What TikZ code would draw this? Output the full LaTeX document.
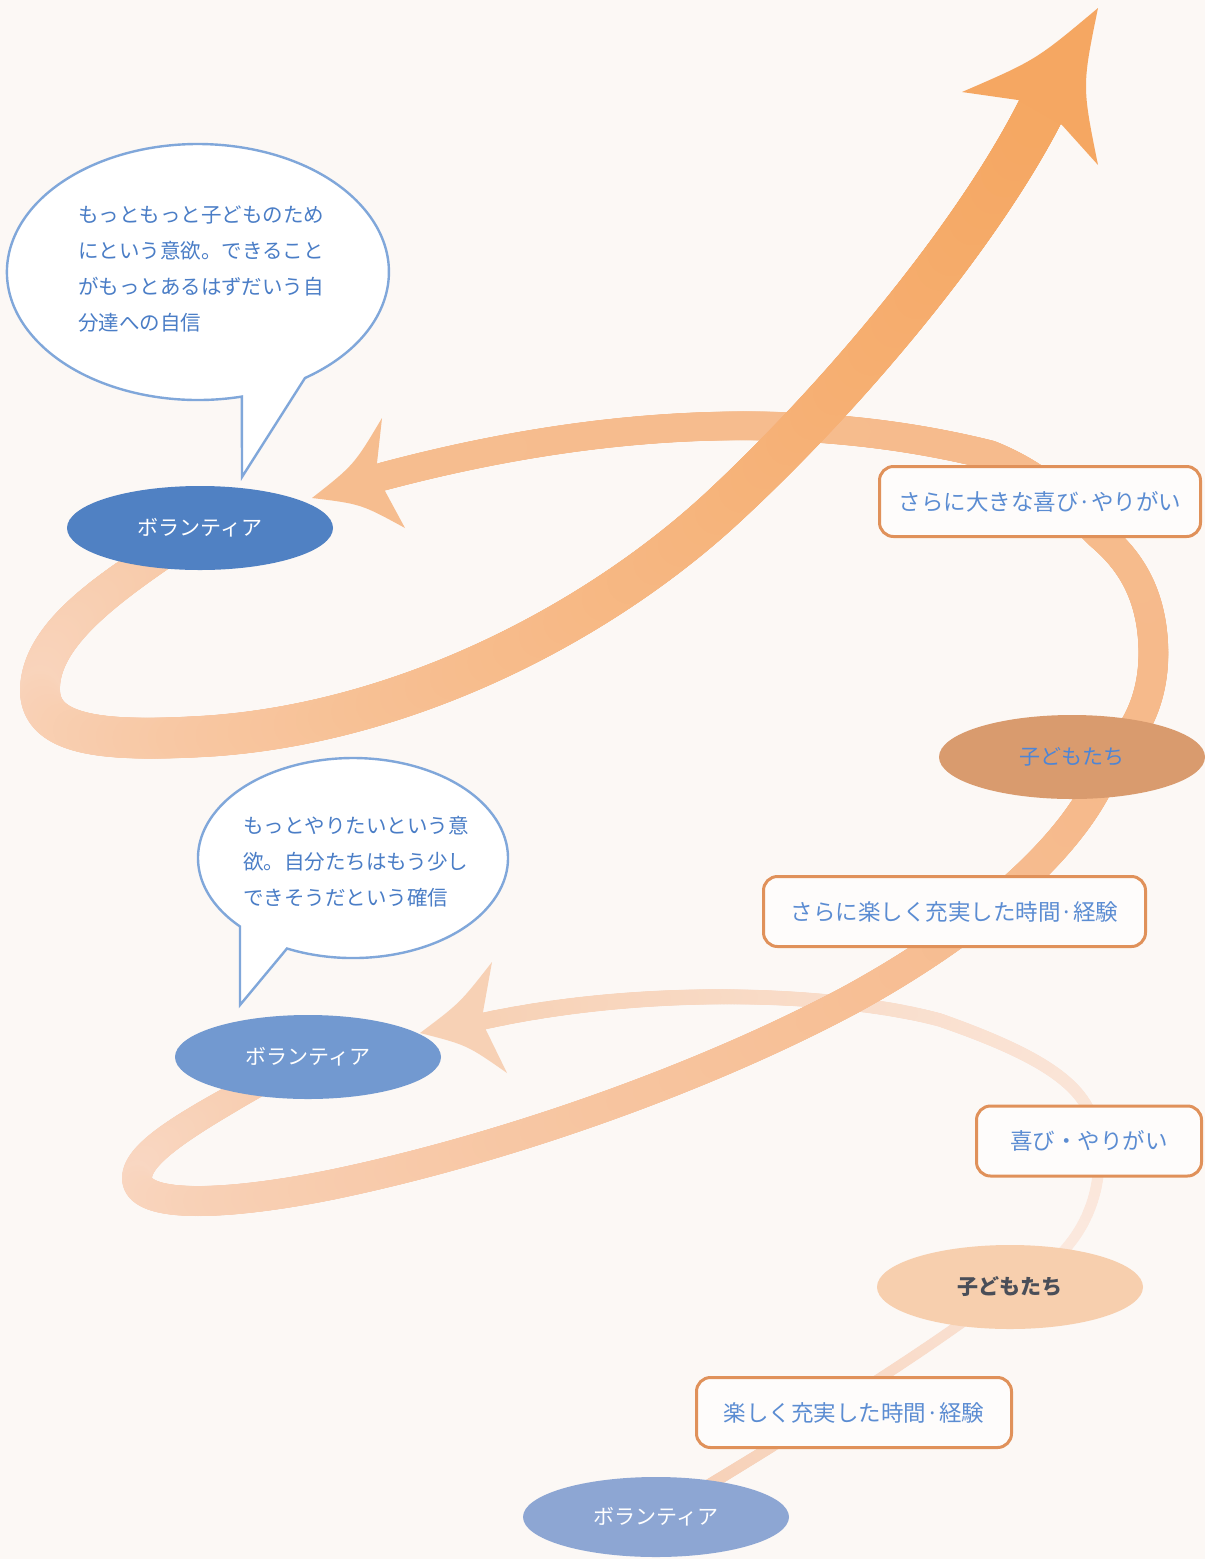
\documentclass[tikz,border=0pt]{standalone}
\usepackage{fontspec}
\newfontfamily\jp{Noto Sans CJK JP}
\usetikzlibrary{shapes.geometric,decorations.markings}
\pgfdeclarelayer{back}
\pgfdeclarelayer{band}
\pgfsetlayers{back,band,main}

\definecolor{bgc}{HTML}{FCF8F5}
\definecolor{v1c}{HTML}{5081C3}
\definecolor{v2c}{HTML}{7299D0}
\definecolor{v3c}{HTML}{8DA6D3}
\definecolor{k2c}{HTML}{D99B6E}
\definecolor{k3c}{HTML}{F7CFAE}
\definecolor{k2t}{HTML}{4D85D6}
\definecolor{k3t}{HTML}{4A4E58}
\definecolor{boxo}{HTML}{E0915A}
\definecolor{boxf}{HTML}{FEFCFB}
\definecolor{boxt}{HTML}{5B8CD2}
\definecolor{bubo}{HTML}{80A7DA}
\definecolor{bubt}{HTML}{4A7DC6}
% band colours
\definecolor{s1a}{HTML}{F6CEB3}
\definecolor{s1b}{HTML}{FAE2D4}
\definecolor{s2a}{HTML}{FBE9DF}
\definecolor{s2b}{HTML}{F7D1B5}
\definecolor{s3a}{HTML}{F7C9A8}
\definecolor{s3b}{HTML}{F9D7C2}
\definecolor{s3c}{HTML}{F6B98A}
\definecolor{s4a}{HTML}{F6BA8B}
\definecolor{s4b}{HTML}{F6BD8F}
\definecolor{s5a}{HTML}{F7C7A3}
\definecolor{s5b}{HTML}{F9D4BC}
\definecolor{s5c}{HTML}{F5A762}

% gradient band: #1 start width, #2 end width, #3 start colour, #4 end colour, #5 colour exponent, #6 path
\newcommand\gband[6]{%
  \path[decorate, decoration={markings, mark=between positions 0 and 1 step 1.4pt with {%
      \pgfmathsetmacro\gbfr{\pgfkeysvalueof{/pgf/decoration/mark info/distance from start}/\pgfdecoratedpathlength}%
      \pgfmathsetmacro\gbw{(#1+(#2-#1)*\gbfr)/2}%
      \pgfmathtruncatemacro\gbpc{100*(max(\gbfr,0.0001))^(#5)}%
      \fill[#4!\gbpc!#3] (0,0) circle[radius=\gbw pt];%
  }}] #6;%
}

\tikzset{
  vol/.style={ellipse, minimum width=266pt, minimum height=84pt, inner sep=0pt,
    text=white, font=\jp\fontsize{21}{25}\selectfont},
  kid/.style={ellipse, minimum width=266pt, minimum height=84pt, inner sep=0pt,
    font=\jp\fontsize{21}{25}\selectfont},
  gbox/.style={draw=boxo, line width=3pt, rounded corners=14pt, fill=boxf,
    text=boxt, font=\jp\fontsize{22.5}{26}\selectfont, minimum height=70pt, inner sep=0pt},
  bubble/.style={draw=bubo, line width=2.4pt, fill=white},
  btext/.style={text=bubt, align=left, inner sep=0pt, font=\jp\fontsize{20.5}{36}\selectfont},
}

\begin{document}
\begin{tikzpicture}[x=1pt,y=-1pt]
\useasboundingbox (0,0) rectangle (1205,1559);
\begin{pgfonlayer}{back}
\fill[bgc] (0,0) rectangle (1205,1559);
\end{pgfonlayer}

% ---- ellipses ----
\node[vol, fill=v1c] (v1) at (200,528) {ボランティア};
\node[vol, fill=v2c] (v2) at (308,1057) {ボランティア};
\node[vol, fill=v3c, minimum height=80pt] (v3) at (656,1517) {ボランティア};
\node[kid, fill=k2c, text=k2t] (k2) at (1072,757) {子どもたち};
\node[kid, fill=k3c, text=k3t, font=\jp\bfseries\fontsize{21}{25}\selectfont] (k3) at (1010,1287) {子どもたち};

% ---- boxes ----
\node[gbox, minimum width=321pt] (bbig) at (1040,501.5) {さらに大きな喜び·やりがい};
\node[gbox, minimum width=382pt] (bsara) at (954.5,911.5) {さらに楽しく充実した時間·経験};
\node[gbox, minimum width=225pt] (byoro) at (1089,1141) {喜び・やりがい};
\node[gbox, minimum width=315pt] (btano) at (854,1412.5) {楽しく充実した時間·経験};

% ---- speech bubbles ----
\draw[bubble] (305,378) arc[start angle=55.9, end angle=-283.3, x radius=191, y radius=128] -- (242,477) -- cycle;
\node[btext, anchor=north west] (q1) at (78,206) {もっともっと子どものため\\にという意欲。できること\\がもっとあるはずだいう自\\分達への自信};
\draw[bubble] (287,948.5) arc[start angle=115.2, end angle=-223.2, x radius=155, y radius=100] -- (240,1005) -- cycle;
\node[btext, anchor=north west] (q2) at (243,816) {もっとやりたいという意\\欲。自分たちはもう少し\\できそうだという確信};

% ---- bands ----
\coordinate (h1) at (484,1021);
\coordinate (L2) at (137,1178);
\coordinate (h2) at (381,477);
\coordinate (L3) at (40,690);
\coordinate (h3) at (1040,112);
\begin{pgfonlayer}{band}
% bottom: volunteers -> children
\gband{12}{10}{s1a}{s1b}{1}{(v3.center) .. controls (800,1430) and (930,1350) .. (k3.center)}
% children -> volunteers (loop 1)
\gband{10}{17}{s2a}{s2b}{1.3}{(k3.center) .. controls (1080,1260) and (1110,1190) .. (1095,1130)
   .. controls (1088,1085) and (1040,1055) .. (940,1020)
   .. controls (840,993) and (650,985) .. (h1)}
\fill[s2b] (420,1033) .. controls (460,1003) .. (492,962) -- (483,1012) -- (486,1030)
   -- (507,1073) .. controls (467,1045) .. (420,1033) -- cycle;
% volunteers -> children (loop 2)
\gband{24}{30}{s3a}{s3b}{1}{(v2.center) .. controls (200,1115) and (137,1150) .. (L2)}
\gband{30}{30}{s3b}{s3c}{0.6}{(L2) .. controls (137,1210) and (230,1205) .. (330,1185)
   .. controls (500,1150) and (700,1080) .. (850,1000)
   .. controls (960,940) and (1080,850) .. ([xshift=38pt]k2.center)}
% children -> volunteers (loop 2 return)
\gband{30}{28}{s4a}{s4b}{1}{([xshift=38pt]k2.center) .. controls (1145,725) and (1158,680) .. (1152,630)
   .. controls (1147,590) and (1130,560) .. (1100,535)
   .. controls (1070,505) and (1040,475) .. (990,455)
   .. controls (850,420) and (650,405) .. (h2)}
\fill[s4b] (312,498) .. controls (354,465) .. (382,418) -- (377,463) -- (385,491)
   -- (405,528) .. controls (361,504) .. (312,498) -- cycle;
% volunteers -> up (loop 3)
\gband{32}{40}{s5a}{s5b}{1}{(v1.center) .. controls (120,580) and (40,630) .. (L3)}
\gband{40}{48}{s5b}{s5c}{0.65}{(L3) .. controls (40,738) and (110,742) .. (210,736)
   .. controls (410,722) and (600,620) .. (720,510)
   .. controls (850,390) and (980,230) .. (h3)}
\fill[s5c] (1098,8) .. controls (1082,86) .. (1098,165) -- (1062,125) -- (1018,100)
   -- (962,92) .. controls (1036,60) .. (1098,8) -- cycle;
\end{pgfonlayer}
\end{tikzpicture}
\end{document}
